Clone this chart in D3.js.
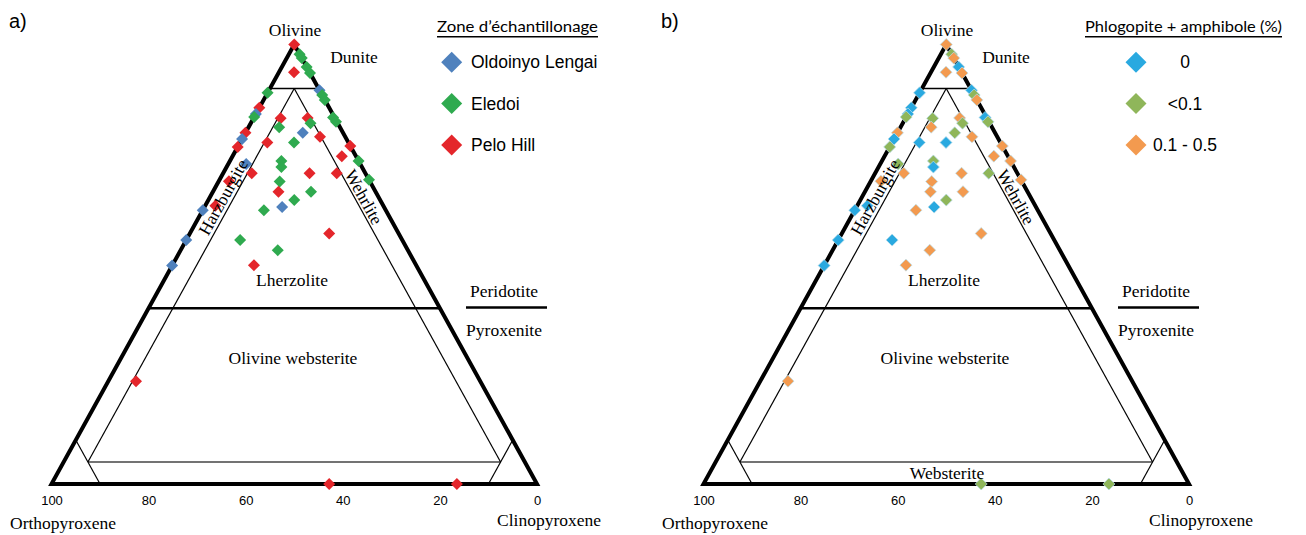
<!DOCTYPE html>
<html>
<head>
<meta charset="utf-8">
<script src="https://cdn.jsdelivr.net/npm/d3@7"></script>
<style>
  html, body { margin: 0; padding: 0; background: #fff; }
  svg { display: block; }
</style>
</head>
<body>
<div id="chart"></div>
<script>
// Ol - Opx - Cpx modal compositions (%)
const olivine =       [100, 97.8, 96.9, 94.9, 93.5, 93.7, 89.0, 89.6, 88.5, 87.4, 85.6, 84.2, 83.5, 79.9, 78.5, 76.7, 62.3, 63.3, 55.5, 49.7, 83.2, 83.3, 81.2, 82.1, 79.9, 83.4, 82.4, 77.7, 77.7, 79.0, 76.9, 74.6, 73.5, 73.5, 72.1, 70.7, 70.7, 70.7, 69.2, 68.8, 66.5, 66.5, 64.6, 62.3, 63.0, 57.0, 55.5, 53.2, 49.8, 23.4, 0, 0, 72.8, 68.9];
const orthopyroxene = [0, 0, 0, 0, 0, 3.2, 11.0, 0, 0, 0, 14.4, 15.8, 16.5, 20.1, 21.5, 23.3, 37.7, 34.6, 44.5, 50.3, 11.2, 5.6, 12.5, 5.6, 8.3, 0.3, 0.2, 16.7, 11.2, 5.2, 0, 2.9, 0, 15.9, 16.6, 23.4, 11.5, 5.9, 0, 18.6, 20.0, 13.3, 17.7, 25.1, 21.0, 14.3, 33.4, 26.8, 33.4, 70.9, 42.8, 16.5, 23.5, 29.0];
const clinopyroxene = [0, 2.2, 3.1, 5.1, 6.5, 3.1, 0, 10.4, 11.5, 12.6, 0, 0, 0, 0, 0, 0, 0, 2.1, 0, 0, 5.6, 11.1, 6.3, 12.3, 11.8, 16.3, 17.4, 5.6, 11.1, 15.8, 23.1, 22.5, 26.5, 10.6, 11.3, 5.9, 17.8, 23.4, 30.8, 12.6, 13.5, 20.2, 17.7, 12.6, 16.0, 28.7, 11.1, 20.0, 16.8, 5.7, 57.2, 83.5, 3.7, 2.1];
const zone = ["Pelo Hill", "Eledoi", "Eledoi", "Eledoi", "Eledoi", "Pelo Hill", "Eledoi", "Oldoinyo Lengai", "Eledoi", "Eledoi",
  "Pelo Hill", "Oldoinyo Lengai", "Eledoi", "Pelo Hill", "Oldoinyo Lengai", "Pelo Hill", "Oldoinyo Lengai", "Pelo Hill", "Oldoinyo Lengai", "Oldoinyo Lengai",
  "Pelo Hill", "Pelo Hill", "Eledoi", "Eledoi", "Oldoinyo Lengai", "Eledoi", "Eledoi", "Pelo Hill", "Eledoi", "Pelo Hill",
  "Pelo Hill", "Pelo Hill", "Eledoi", "Eledoi", "Eledoi", "Pelo Hill", "Pelo Hill", "Pelo Hill", "Eledoi", "Eledoi",
  "Pelo Hill", "Eledoi", "Eledoi", "Eledoi", "Oldoinyo Lengai", "Pelo Hill", "Eledoi", "Eledoi", "Pelo Hill", "Pelo Hill",
  "Pelo Hill", "Pelo Hill", "Oldoinyo Lengai", "Pelo Hill"];
const phlog = ["0.1 - 0.5", "<0.1", "0.1 - 0.5", "0", "0.1 - 0.5", "0.1 - 0.5", "0", "0", "<0.1", "0.1 - 0.5",
  "0", "0", "<0.1", "0.1 - 0.5", "0", "<0.1", "0", "0", "0", "0",
  "<0.1", "0.1 - 0.5", "0.1 - 0.5", "<0.1", "<0.1", "0", "<0.1", "0", "0", "0.1 - 0.5",
  "0.1 - 0.5", "0.1 - 0.5", "0.1 - 0.5", "<0.1", "0", "0.1 - 0.5", "0.1 - 0.5", "<0.1", "0.1 - 0.5", "0.1 - 0.5",
  "0.1 - 0.5", "0.1 - 0.5", "<0.1", "0.1 - 0.5", "0", "0.1 - 0.5", "0", "0.1 - 0.5", "0.1 - 0.5", "0.1 - 0.5",
  "<0.1", "<0.1", "<0.1", "0.1 - 0.5"];

const zoneNames = ["Oldoinyo Lengai", "Eledoi", "Pelo Hill"];
const zoneColors = ["#4f81bd", "#2faa4f", "#e4262b"];
const phlogNames = ["0", "<0.1", "0.1 - 0.5"];
const phlogColors = ["#29a9e0", "#8fb65a", "#f39a4f"];
const opxTicks = [100, 80, 60, 40, 20, 0];

// field boundaries, as [Ol, Opx, Cpx] end points
const boundaries = [
  { a: [90, 10, 0], b: [90, 0, 10], w: 1.6, c: "#000" },
  { a: [40, 60, 0], b: [40, 0, 60], w: 2.6, c: "#000" },
  { a: [5, 90, 5], b: [5, 5, 90], w: 1.4, c: "#444" },
  { a: [90, 5, 5], b: [5, 90, 5], w: 1.2, c: "#000" },
  { a: [90, 5, 5], b: [5, 5, 90], w: 1.2, c: "#000" },
  { a: [10, 90, 0], b: [0, 90, 10], w: 1.2, c: "#000" },
  { a: [10, 0, 90], b: [0, 10, 90], w: 1.2, c: "#000" },
];

const samples = olivine.map((ol, i) => ({
  ol, opx: orthopyroxene[i], cpx: clinopyroxene[i], zone: zone[i], phlog: phlog[i],
}));

const width = 1306, height = 535;
const svg = d3.select("#chart").append("svg")
  .attr("width", width).attr("height", height)
  .attr("viewBox", [0, 0, width, height]);

const serif = "'Liberation Serif', 'Times New Roman', serif";
const sans = "'Liberation Sans', Arial, sans-serif";

// ternary scales: height from Ol, horizontal position from Cpx + Ol/2
const yOl = d3.scaleLinear().domain([0, 100]).range([484, 44.5]);
const xBase = d3.scaleLinear().domain([0, 100]).range([51.5, 537]);
const xOpx = d3.scaleLinear().domain([100, 0]).range([51.5, 537]);
const px = (c) => xBase(c[2] + c[0] / 2);
const py = (c) => yOl(c[0]);

const diamond = (size) => d3.symbol().type(d3.symbolSquare).size(size);

function panel(offsetX, tag, colorOf, legendTitle, legendNames, legendColors, legendOpts) {
  const g = svg.append("g").attr("transform", `translate(${offsetX},0)`);

  g.append("text").attr("x", 9).attr("y", 28)
    .attr("font-family", sans).attr("font-size", 20).text(tag);

  // boundaries
  g.append("g").selectAll("line").data(boundaries).join("line")
    .attr("x1", (d) => px(d.a)).attr("y1", (d) => py(d.a))
    .attr("x2", (d) => px(d.b)).attr("y2", (d) => py(d.b))
    .attr("stroke", (d) => d.c).attr("stroke-width", (d) => d.w);

  // outer triangle
  const corners = [[100, 0, 0], [0, 100, 0], [0, 0, 100]];
  g.append("path")
    .attr("d", "M" + corners.map((c) => [px(c), py(c)].join(",")).join("L") + "Z")
    .attr("fill", "none").attr("stroke", "#000").attr("stroke-width", 4)
    .attr("stroke-linejoin", "miter");

  // bottom axis (Opx %)
  const axis = g.append("g").attr("transform", `translate(0,${yOl(0)})`)
    .call(d3.axisBottom(xOpx).tickValues(opxTicks).tickSize(0).tickPadding(12));
  axis.select(".domain").remove();
  axis.selectAll("text").attr("font-family", sans).attr("font-size", 13).attr("fill", "#000");

  // points
  g.append("g").selectAll("path").data(samples).join("path")
    .attr("d", diamond(72))
    .attr("transform", (d) => `translate(${px([d.ol, d.opx, d.cpx])},${py([d.ol, d.opx, d.cpx])}) rotate(45)`)
    .attr("fill", colorOf)
    .attr("stroke", legendOpts.stroke || "none")
    .attr("stroke-width", 0.7);

  // labels
  const lab = (t, x, y, o = {}) => g.append("text").attr("x", x).attr("y", y)
    .attr("font-family", serif).attr("font-size", 17.5).attr("text-anchor", o.anchor || "middle")
    .attr("transform", o.rot ? `rotate(${o.rot},${x},${y})` : null)
    .attr("dy", o.dy || null).text(t);
  lab("Olivine", 295, 36);
  lab("Dunite", 354, 63);
  lab("Harzburgite", 223, 197, { rot: -61.1, dy: "0.35em" });
  lab("Wehrlite", 364, 197, { rot: 61.1, dy: "0.35em" });
  lab("Lherzolite", 292, 286);
  lab("Olivine websterite", 293, 364);
  if (legendOpts.websterite) lab("Websterite", 295, 479);
  lab("Peridotite", 504, 297);
  lab("Pyroxenite", 504, 336);
  g.append("line").attr("x1", 466).attr("x2", 547).attr("y1", 307.5).attr("y2", 307.5)
    .attr("stroke", "#000").attr("stroke-width", 2.4);
  lab("Orthopyroxene", 10, 529, { anchor: "start" });
  lab("Clinopyroxene", 497, 526, { anchor: "start" });

  // legend
  const lg = g.append("g");
  lg.append("text").attr("x", legendOpts.titleX).attr("y", 32)
    .attr("font-family", "Lato, 'Open Sans', sans-serif").attr("font-size", 16)
    .attr("textLength", legendOpts.titleW).attr("lengthAdjust", "spacingAndGlyphs")
    .text(legendTitle);
  lg.append("line").attr("x1", legendOpts.titleX).attr("x2", legendOpts.titleX + legendOpts.titleW)
    .attr("y1", 36.7).attr("y2", 36.7).attr("stroke", "#000").attr("stroke-width", 1.4);
  const rows = [62.3, 103.5, 145];
  legendNames.forEach((name, i) => {
    lg.append("path").attr("d", diamond(220))
      .attr("transform", `translate(${legendOpts.markX},${rows[i]}) rotate(45)`)
      .attr("fill", legendColors[i]);
    lg.append("text").attr("x", legendOpts.textX).attr("y", rows[i]).attr("dy", "0.35em")
      .attr("font-family", sans).attr("font-size", 17.5)
      .attr("text-anchor", legendOpts.textAnchor).text(name);
  });
}

const zoneColor = d3.scaleOrdinal(zoneNames, zoneColors);
const phlogColor = d3.scaleOrdinal(phlogNames, phlogColors);

panel(0, "a)", (d) => zoneColor(d.zone), "Zone d’échantillonage", zoneNames, zoneColors,
  { titleX: 437, titleW: 161, markX: 451.7, textX: 471, textAnchor: "start" });
panel(652, "b)", (d) => phlogColor(d.phlog), "Phlogopite + amphibole (%)", phlogNames, phlogColors,
  { titleX: 433, titleW: 197, markX: 484, textX: 533, textAnchor: "middle", websterite: true, stroke: "#b8dcea" });
</script>
</body>
</html>
